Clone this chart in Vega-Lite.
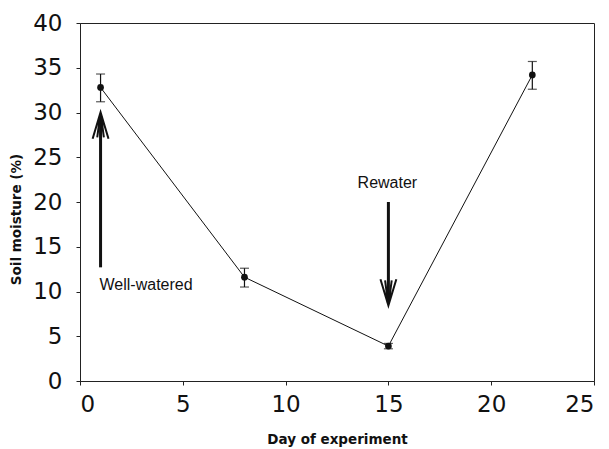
{
  "$schema": "https://vega.github.io/schema/vega-lite/v6.json",
  "autosize": {"type": "none"},
  "width": 514,
  "height": 358,
  "padding": {"left": 80, "top": 23, "right": 15, "bottom": 68},
  "background": "white",
  "config": {
    "view": {"stroke": "#222", "strokeWidth": 1},
    "axis": {
      "domainColor": "#222",
      "tickColor": "#222",
      "grid": false,
      "labelFont": "DejaVu Sans",
      "labelFontSize": 23,
      "labelColor": "#111",
      "titleFont": "DejaVu Sans",
      "titleFontWeight": "bold",
      "titleFontSize": 13.5,
      "titleColor": "#111",
      "tickSize": 4
    }
  },
  "datasets": {
    "moisture": [
      {"day": 1, "moisture": 32.8, "lo": 31.2, "hi": 34.3},
      {"day": 8, "moisture": 11.6, "lo": 10.5, "hi": 12.6},
      {"day": 15, "moisture": 3.9, "lo": 3.6, "hi": 4.2},
      {"day": 22, "moisture": 34.2, "lo": 32.6, "hi": 35.7}
    ],
    "arrows": [
      {"day": 1, "from": 12.7, "to": 29.6, "head": 28.55, "dir": "up"},
      {"day": 15, "from": 20.0, "to": 8.7, "head": 9.9, "dir": "down"}
    ],
    "labels": [
      {"day": 0.95, "moisture": 10.17, "label": "Well-watered"},
      {"day": 14.95, "moisture": 21.56, "label": "Rewater"}
    ]
  },
  "layer": [
    {
      "data": {"name": "moisture"},
      "mark": {"type": "line", "color": "#111", "strokeWidth": 1},
      "encoding": {
        "x": {
          "field": "day", "type": "quantitative",
          "scale": {"domain": [0, 25], "nice": false, "zero": false},
          "axis": {"values": [0, 5, 10, 15, 20, 25], "title": "Day of experiment", "labelPadding": 8, "titleY": 51, "titleBaseline": "top"}
        },
        "y": {
          "field": "moisture", "type": "quantitative",
          "scale": {"domain": [0, 40], "nice": false},
          "axis": {"values": [0, 5, 10, 15, 20, 25, 30, 35, 40], "title": "Soil moisture (%)", "labelPadding": 14, "titleX": -57, "titleY": 196}
        }
      }
    },
    {
      "data": {"name": "moisture"},
      "mark": {"type": "rule", "color": "#111", "strokeWidth": 1.2},
      "encoding": {
        "x": {"field": "day", "type": "quantitative"},
        "y": {"field": "lo", "type": "quantitative"},
        "y2": {"field": "hi"}
      }
    },
    {
      "data": {"name": "moisture"},
      "mark": {"type": "tick", "orient": "horizontal", "color": "#111", "size": 9, "thickness": 1.2},
      "encoding": {
        "x": {"field": "day", "type": "quantitative"},
        "y": {"field": "lo", "type": "quantitative"}
      }
    },
    {
      "data": {"name": "moisture"},
      "mark": {"type": "tick", "orient": "horizontal", "color": "#111", "size": 9, "thickness": 1.2},
      "encoding": {
        "x": {"field": "day", "type": "quantitative"},
        "y": {"field": "hi", "type": "quantitative"}
      }
    },
    {
      "data": {"name": "moisture"},
      "mark": {"type": "point", "filled": true, "color": "#111", "size": 45, "opacity": 1},
      "encoding": {
        "x": {"field": "day", "type": "quantitative"},
        "y": {"field": "moisture", "type": "quantitative"}
      }
    },
    {
      "data": {"name": "arrows"},
      "mark": {"type": "rule", "color": "#111", "strokeWidth": 3},
      "encoding": {
        "x": {"field": "day", "type": "quantitative"},
        "y": {"field": "from", "type": "quantitative"},
        "y2": {"field": "to"}
      }
    },
    {
      "data": {"name": "arrows"},
      "mark": {"type": "point", "filled": false, "color": "#111", "strokeWidth": 2, "size": 700, "opacity": 1},
      "encoding": {
        "x": {"field": "day", "type": "quantitative"},
        "y": {"field": "head", "type": "quantitative"},
        "shape": {
          "field": "dir", "type": "nominal", "legend": null,
          "scale": {"domain": ["up", "down"], "range": ["M-0.6,1L0,-1L0.6,1M-0.25,0.9L0,-1L0.25,0.9", "M-0.6,-1L0,1L0.6,-1M-0.25,-0.9L0,1L0.25,-0.9"]}
        }
      }
    },
    {
      "data": {"name": "labels"},
      "transform": [{"filter": "datum.label === 'Well-watered'"}],
      "mark": {"type": "text", "font": "Liberation Sans", "fontSize": 16, "color": "#111", "baseline": "alphabetic", "align": "left"},
      "encoding": {
        "x": {"field": "day", "type": "quantitative"},
        "y": {"field": "moisture", "type": "quantitative"},
        "text": {"field": "label"}
      }
    },
    {
      "data": {"name": "labels"},
      "transform": [{"filter": "datum.label === 'Rewater'"}],
      "mark": {"type": "text", "font": "Liberation Sans", "fontSize": 16, "color": "#111", "baseline": "alphabetic", "align": "center"},
      "encoding": {
        "x": {"field": "day", "type": "quantitative"},
        "y": {"field": "moisture", "type": "quantitative"},
        "text": {"field": "label"}
      }
    }
  ]
}
